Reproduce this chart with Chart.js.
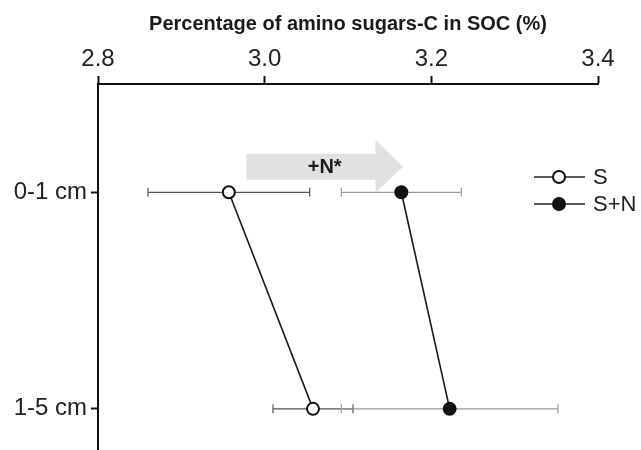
<!DOCTYPE html>
<html>
<head>
<meta charset="utf-8">
<script src="https://cdn.jsdelivr.net/npm/chart.js@4/dist/chart.umd.min.js"></script>
<style>
  html, body { margin: 0; padding: 0; background: #fff; }
  #wrap { width: 641px; height: 450px; position: relative; }
</style>
</head>
<body>
<div id="wrap"><canvas id="c" width="641" height="450"></canvas></div>
<script>
// Soil depth layers (top to bottom)
const depths = ['0-1 cm', '1-5 cm'];
// Percentage of amino sugars-C in SOC (%) per layer
const sValues = [2.957, 3.058];
const sErrors = [0.097, 0.048];
const snValues = [3.164, 3.222];
const snErrors = [0.072, 0.130];
// Axis ticks
const xTicks = [2.8, 3.0, 3.2, 3.4];
// Treatment effect label
const effectLabel = '+N*';
const seriesNames = ['S', 'S+N'];

const FONT = "'Liberation Sans', Arial, Helvetica, sans-serif";

function points(values) {
  return values.map((v, i) => ({ x: v, y: i }));
}

// Horizontal error bars with end caps
const errorBars = {
  id: 'errorBars',
  beforeDatasetsDraw(chart) {
    const { ctx, scales: { x, y } } = chart;
    chart.data.datasets.forEach((ds) => {
      ctx.save();
      ctx.strokeStyle = ds.errorColor;
      ctx.lineWidth = 1.2;
      ds.data.forEach((p, i) => {
        const e = ds.errors[i];
        const x0 = x.getPixelForValue(p.x - e);
        const x1 = x.getPixelForValue(p.x + e);
        const py = y.getPixelForValue(p.y);
        ctx.beginPath();
        ctx.moveTo(x0, py); ctx.lineTo(x1, py);
        ctx.moveTo(x0, py - 4.5); ctx.lineTo(x0, py + 4.5);
        ctx.moveTo(x1, py - 4.5); ctx.lineTo(x1, py + 4.5);
        ctx.stroke();
      });
      ctx.restore();
    });
  }
};

// Shaded arrow showing the N effect on the top layer
const effectArrow = {
  id: 'effectArrow',
  beforeDatasetsDraw(chart) {
    const { ctx, scales: { x, y } } = chart;
    const xs = x.getPixelForValue(2.978);
    const xh = x.getPixelForValue(3.133);
    const xt = x.getPixelForValue(3.166);
    const cy = y.getPixelForValue(0) - 25.5;
    ctx.save();
    ctx.fillStyle = '#e1e1e1';
    ctx.beginPath();
    ctx.moveTo(xs, cy - 13);
    ctx.lineTo(xh, cy - 13);
    ctx.lineTo(xh, cy - 27);
    ctx.lineTo(xt, cy);
    ctx.lineTo(xh, cy + 26);
    ctx.lineTo(xh, cy + 13);
    ctx.lineTo(xs, cy + 13);
    ctx.closePath();
    ctx.fill();
    ctx.fillStyle = '#1a1a1a';
    ctx.font = 'bold 20px ' + FONT;
    ctx.textAlign = 'center';
    ctx.textBaseline = 'middle';
    ctx.fillText(effectLabel, (xs + xt) / 2, cy + 1);
    ctx.restore();
  }
};

// Legend: line-with-marker samples at the right
const markerLegend = {
  id: 'markerLegend',
  afterDraw(chart) {
    const { ctx, chartArea } = chart;
    const lx0 = chartArea.right - 64;
    const lx1 = chartArea.right - 13;
    const cx = chartArea.right - 39;
    ctx.save();
    chart.data.datasets.forEach((ds, i) => {
      const ly = 177 + i * 27;
      ctx.strokeStyle = '#222';
      ctx.lineWidth = 1.5;
      ctx.beginPath();
      ctx.moveTo(lx0, ly); ctx.lineTo(lx1, ly);
      ctx.stroke();
      ctx.beginPath();
      ctx.arc(cx, ly, 6, 0, Math.PI * 2);
      ctx.fillStyle = ds.pointBackgroundColor;
      ctx.fill();
      ctx.lineWidth = 2;
      ctx.strokeStyle = '#111';
      ctx.stroke();
      ctx.fillStyle = '#222';
      ctx.font = '22px ' + FONT;
      ctx.textAlign = 'left';
      ctx.textBaseline = 'middle';
      ctx.fillText(seriesNames[i], lx1 + 8, ly + 1);
    });
    ctx.restore();
  }
};

new Chart(document.getElementById('c'), {
  type: 'scatter',
  data: {
    datasets: [
      {
        label: seriesNames[0],
        data: points(sValues),
        errors: sErrors,
        errorColor: '#555',
        showLine: true,
        borderColor: '#1a1a1a',
        borderWidth: 1.6,
        pointRadius: 6,
        pointBorderWidth: 2,
        pointBorderColor: '#111',
        pointBackgroundColor: '#fff'
      },
      {
        label: seriesNames[1],
        data: points(snValues),
        errors: snErrors,
        errorColor: '#9a9a9a',
        showLine: true,
        borderColor: '#1a1a1a',
        borderWidth: 1.6,
        pointRadius: 6,
        pointBorderWidth: 2,
        pointBorderColor: '#111',
        pointBackgroundColor: '#111'
      }
    ]
  },
  options: {
    responsive: false,
    animation: false,
    layout: { autoPadding: false, padding: { left: 0, right: 43, top: 0, bottom: 0 } },
    plugins: {
      legend: { display: false },
      tooltip: { enabled: false }
    },
    scales: {
      x: {
        type: 'linear',
        position: 'top',
        min: 2.8,
        max: 3.4,
        afterBuildTicks: (s) => { s.ticks = xTicks.map(v => ({ value: v })); },
        afterFit: (s) => { s.height = 84; s.paddingLeft = 0; s.paddingRight = 0; },
        ticks: {
          callback: (v) => Number(v).toFixed(1),
          color: '#222',
          font: { family: FONT, size: 24 },
          padding: 2,
          maxRotation: 0
        },
        grid: {
          drawOnChartArea: false,
          tickLength: 8,
          tickWidth: 2,
          tickColor: '#111'
        },
        border: { color: '#111', width: 2 },
        title: {
          display: true,
          text: 'Percentage of amino sugars-C in SOC (%)',
          color: '#1a1a1a',
          font: { family: FONT, size: 20, weight: 'bold' },
          padding: { top: 12, bottom: 0 }
        }
      },
      y: {
        type: 'linear',
        reverse: true,
        min: -0.5,
        max: 1.19,
        afterBuildTicks: (s) => { s.ticks = depths.map((_, i) => ({ value: i })); },
        afterFit: (s) => { s.width = 98; s.paddingTop = 0; s.paddingBottom = 0; },
        ticks: {
          callback: (v) => depths[v],
          color: '#222',
          font: { family: FONT, size: 24 },
          padding: 4
        },
        grid: {
          drawOnChartArea: false,
          tickLength: 7,
          tickWidth: 2,
          tickColor: '#111'
        },
        border: { color: '#111', width: 2 }
      }
    }
  },
  plugins: [errorBars, effectArrow, markerLegend]
});
</script>
</body>
</html>
